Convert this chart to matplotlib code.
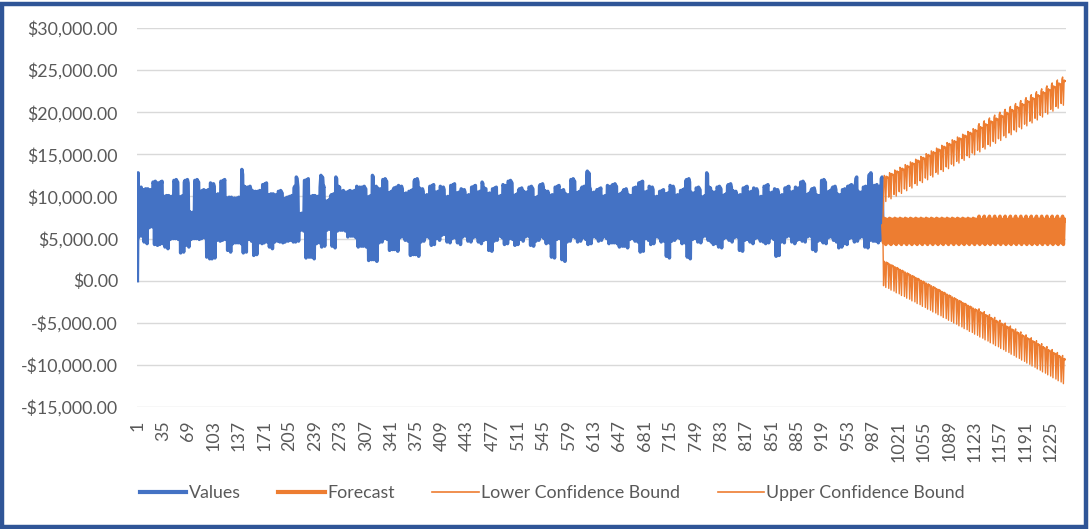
import matplotlib
matplotlib.use("Agg")
import matplotlib.pyplot as plt
from matplotlib.patches import Rectangle
from matplotlib.ticker import FuncFormatter, FixedLocator, NullLocator

# Daily observed values, one row per week (quiet days on the 3rd and 7th day)
values = [
    0, 12800, 5200, 11000, 10900, 11100, 5300,
    10600, 10800, 4600, 10700, 10900, 10500, 4400,
    10900, 10700, 6300, 10600, 10800, 10500, 6400,
    11700, 11500, 4300, 11800, 11600, 11500, 4200,
    11600, 11400, 4300, 11700, 11500, 11800, 4400,
    9800, 10000, 4000, 9900, 10100, 9700, 3800,
    10100, 9900, 4900, 9800, 10000, 9700, 5000,
    11900, 11700, 5000, 12000, 11800, 11700, 4900,
    9900, 9700, 3300, 10000, 9800, 10100, 3400,
    11700, 11900, 4200, 11800, 12000, 11600, 4000,
    8200, 8000, 4900, 7900, 8100, 7800, 5000,
    11900, 11700, 5000, 12000, 11800, 11700, 4900,
    10600, 10400, 5000, 10700, 10500, 10800, 5100,
    10500, 10700, 2800, 10600, 10800, 10400, 2600,
    11600, 11400, 2600, 11300, 11500, 11200, 2700,
    10200, 10000, 4800, 10300, 10100, 10000, 4700,
    11800, 11600, 4800, 11900, 11700, 12000, 4900,
    9600, 9800, 3600, 9700, 9900, 9500, 3400,
    9900, 9700, 4400, 9600, 9800, 9500, 4500,
    9800, 9600, 4500, 9900, 9700, 9600, 4400,
    13200, 12600, 3300, 11200, 11000, 11100, 3400,
    10900, 11100, 4900, 11000, 11200, 10800, 4700,
    10700, 10500, 3000, 10400, 10600, 10300, 3100,
    10600, 10400, 4500, 10700, 10500, 10400, 4400,
    11400, 11200, 4500, 11500, 11300, 11600, 4600,
    10000, 10200, 4000, 10100, 10300, 9900, 3800,
    10300, 10100, 4600, 10000, 10200, 9900, 4700,
    10600, 10400, 4600, 10700, 10500, 10400, 4500,
    9700, 9500, 4600, 9800, 9600, 9900, 4700,
    9800, 10000, 4800, 9900, 10100, 9700, 4600,
    11000, 11200, 4600, 12300, 12100, 11100, 4700,
    7900, 7700, 6000, 8000, 7800, 7700, 5900,
    11900, 11700, 2700, 12000, 11800, 12100, 2800,
    9800, 10000, 2800, 9900, 10100, 9700, 2600,
    10100, 9900, 4400, 9800, 10000, 9700, 4500,
    11100, 12500, 4000, 12300, 11000, 11200, 4100,
    9400, 9200, 6000, 9500, 9300, 9600, 6100,
    10000, 10200, 4100, 10100, 10300, 9900, 3900,
    12300, 12100, 5900, 11200, 11000, 11100, 6000,
    10600, 10400, 6000, 10700, 10500, 10400, 5900,
    10500, 10300, 5200, 10600, 10400, 10700, 5300,
    10400, 10600, 5300, 10500, 10700, 10300, 5100,
    11200, 11000, 4000, 10900, 11100, 10800, 4100,
    11100, 10900, 4100, 11200, 11000, 10900, 4000,
    9900, 9700, 2400, 10000, 9800, 10100, 2500,
    12500, 12300, 2500, 11100, 11000, 11200, 2300,
    11000, 10800, 4500, 10700, 10900, 10600, 4600,
    12000, 11800, 5000, 12100, 11900, 11800, 4900,
    10400, 10200, 3600, 10500, 10300, 10600, 3700,
    10800, 11000, 3700, 10900, 11100, 10700, 3500,
    11300, 11100, 5100, 11000, 11200, 10900, 5200,
    10300, 10100, 4800, 10400, 10200, 10100, 4700,
    10600, 10400, 3000, 10700, 10500, 10800, 3100,
    11800, 12000, 3100, 11900, 12100, 11700, 2900,
    11000, 10800, 4600, 10700, 10900, 10600, 4700,
    10100, 9900, 5200, 10200, 10000, 9900, 5100,
    11200, 11000, 4200, 11300, 11100, 11400, 4300,
    10300, 10500, 5000, 10400, 10600, 10200, 4800,
    11200, 11000, 5400, 10900, 11100, 10800, 5500,
    9900, 9700, 4600, 10000, 9800, 9700, 4500,
    11300, 11100, 5000, 11400, 11200, 11500, 5100,
    10200, 10400, 4500, 10300, 10500, 10100, 4300,
    10900, 10700, 5200, 10600, 10800, 10500, 5300,
    10100, 9900, 4700, 10200, 10000, 9900, 4600,
    11100, 10900, 5100, 11200, 11000, 11300, 5200,
    10300, 10500, 4600, 10400, 10600, 10200, 4400,
    11700, 11500, 4800, 11000, 10800, 10900, 4900,
    10300, 10100, 3600, 10400, 10200, 10100, 3500,
    10900, 10700, 4700, 11000, 10800, 11100, 4800,
    9800, 10000, 5300, 9900, 10100, 9700, 5100,
    11400, 11200, 4300, 11100, 11300, 11000, 4400,
    11800, 11600, 5000, 11900, 11700, 11600, 4900,
    10100, 9900, 4200, 10200, 10000, 10300, 4300,
    10700, 10900, 4900, 10800, 11000, 10600, 4700,
    10600, 10400, 5200, 10300, 10500, 10200, 5300,
    11100, 10900, 4200, 11200, 11000, 10900, 4100,
    9800, 9600, 4700, 9900, 9700, 10000, 4800,
    11200, 11400, 5200, 11300, 11500, 11100, 5000,
    10700, 10500, 4400, 10400, 10600, 10300, 4500,
    10100, 9900, 2800, 10200, 10000, 9900, 2700,
    11100, 10900, 4900, 11200, 11000, 11300, 5000,
    10500, 10700, 2500, 10600, 10800, 10400, 2300,
    10300, 10100, 4600, 10000, 10200, 9900, 4700,
    12000, 11800, 5200, 12100, 11900, 11800, 5100,
    10400, 10200, 4600, 10500, 10300, 10600, 4700,
    10900, 11100, 5100, 11000, 11200, 10800, 4900,
    11200, 13000, 4300, 12800, 11000, 10900, 4400,
    10400, 10200, 5200, 10500, 10300, 10200, 5100,
    10800, 10600, 4700, 10900, 10700, 11000, 4800,
    9800, 10000, 5200, 9900, 10100, 9700, 5000,
    11300, 11100, 4400, 11000, 11200, 10900, 4500,
    11400, 11200, 4500, 11500, 11300, 11200, 4400,
    10200, 10000, 4000, 10300, 10100, 10400, 4100,
    10600, 10800, 4100, 10700, 10900, 10500, 3900,
    10200, 10000, 4900, 9900, 10100, 9800, 5000,
    11000, 10800, 4700, 11100, 10900, 10800, 4600,
    11600, 11400, 3400, 11700, 11500, 11800, 3500,
    10300, 10500, 5000, 10400, 10600, 10200, 4800,
    11200, 11000, 4300, 10900, 11100, 10800, 4400,
    9900, 9700, 5200, 10000, 9800, 9700, 5100,
    10600, 10400, 4600, 10700, 10500, 10800, 4700,
    10100, 10300, 2900, 10200, 10400, 10000, 2700,
    11300, 11100, 4700, 11000, 11200, 10900, 4800,
    10100, 9900, 5100, 10200, 10000, 9900, 5000,
    10700, 10500, 4400, 10800, 10600, 10900, 4500,
    11800, 12000, 2800, 11900, 12100, 11700, 2600,
    10500, 10300, 4900, 10200, 10400, 10100, 5000,
    11000, 10800, 4600, 11100, 10900, 10800, 4500,
    9900, 9700, 5200, 10000, 9800, 10100, 5300,
    12800, 12600, 4800, 11100, 10900, 11000, 4600,
    10600, 10400, 4300, 10300, 10500, 10200, 4400,
    11100, 10900, 4000, 11200, 11000, 10900, 3900,
    10100, 9900, 5000, 10200, 10000, 10300, 5100,
    11200, 11400, 4800, 11300, 11500, 11100, 4600,
    10700, 10500, 5100, 10400, 10600, 10300, 5200,
    10100, 9900, 3600, 10200, 10000, 9900, 3500,
    11000, 10800, 4800, 11100, 10900, 11200, 4900,
    10300, 10500, 4600, 10400, 10600, 10200, 4400,
    11000, 10800, 5000, 10700, 10900, 10600, 5100,
    9900, 9700, 4700, 10000, 9800, 9700, 4600,
    11200, 11000, 4400, 11300, 11100, 11400, 4500,
    10200, 10400, 5100, 10300, 10500, 10100, 4900,
    10900, 10700, 2900, 10600, 10800, 10500, 3000,
    10100, 9900, 4600, 10200, 10000, 9900, 4500,
    11000, 10800, 5200, 11100, 10900, 11200, 5300,
    10300, 10500, 4600, 10400, 10600, 10200, 4400,
    11100, 10900, 4800, 10800, 11000, 10700, 4900,
    11700, 11500, 4700, 11800, 11600, 11500, 4600,
    10200, 10000, 5200, 10300, 10100, 10400, 5300,
    10700, 10900, 3700, 10800, 11000, 10600, 3500,
    10200, 10000, 4700, 9900, 10100, 9800, 4800,
    11900, 11700, 4500, 12000, 11800, 11700, 4400,
    10500, 10300, 5100, 10600, 10400, 10700, 5200,
    10900, 11100, 4800, 11000, 11200, 10800, 4600,
    10300, 10100, 3900, 10000, 10200, 9900, 4000,
    10800, 10600, 4400, 10900, 10700, 10600, 4300,
    11200, 11000, 5000, 11300, 11100, 11400, 5100,
    11100, 11200, 4600, 11000, 12100, 12300, 4700,
    10600, 10400, 5100, 10300, 10500, 10200, 5200,
    11100, 10900, 4000, 11200, 11000, 10900, 3900,
    11200, 12600, 4800, 12800, 11100, 11000, 4700,
    11100, 11300, 4700, 11200, 11400, 11000, 4500,
    11000, 11200, 4800, 12100, 12300, 6500,
]

# Weekly seasonal forecast profile, starting on the day after the last observation
forecast_week_early = [4500, 7400, 7250, 4300, 7300, 7100, 7200]
forecast_week_late = [4500, 7400, 7650, 4300, 7300, 7100, 7200]
forecast_weeks_early = 18
forecast_weeks_late = 17

# Half-width of the confidence interval for each forecast week
ci_halfwidth_weekly = [
    5100, 5420, 5740, 6060, 6380, 6700, 7020, 7350, 7680, 8010,
    8340, 8670, 9000, 9330, 9660, 9990, 10320, 10650, 10990, 11330,
    11670, 12010, 12350, 12690, 13030, 13380, 13730, 14080, 14430, 14780,
    15130, 15480, 15830, 16180, 16530,
]

x_tick_labels = [1, 35, 69, 103, 137, 171, 205, 239, 273, 307, 341, 375, 409,
                 443, 477, 511, 545, 579, 613, 647, 681, 715, 749, 783, 817,
                 851, 885, 919, 953, 987, 1021, 1055, 1089, 1123, 1157, 1191, 1225]

series_names = ["Values", "Forecast", "Lower Confidence Bound", "Upper Confidence Bound"]

BLUE = "#4472C4"
ORANGE = "#ED7D31"
TEXT = "#595959"
GRID = "#D9D9D9"
FONT = "Lato"
FONT_SIZE = 12.8

# Build the series
n_obs = len(values)
x_obs = list(range(1, n_obs + 1))
forecast_steps = forecast_week_early * forecast_weeks_early + forecast_week_late * forecast_weeks_late
halfwidth_steps = [ci_halfwidth_weekly[i // 7] for i in range(len(forecast_steps))]
last = values[-1]
forecast = [last] + forecast_steps
lower = [last] + [f - h for f, h in zip(forecast_steps, halfwidth_steps)]
upper = [last] + [f + h for f, h in zip(forecast_steps, halfwidth_steps)]
x_fc = list(range(n_obs, n_obs + len(forecast)))
n_total = x_fc[-1]

fig = plt.figure(figsize=(10.9, 5.29), dpi=100)
ax = fig.add_axes([137 / 1090, 1 - 407 / 529, (1066 - 137) / 1090, (407 - 28) / 529])

ax.plot(x_obs, values, color=BLUE, lw=2.5, solid_joinstyle="round", zorder=3)
ax.plot(x_fc, forecast, color=ORANGE, lw=2.5, solid_joinstyle="round", zorder=4)
ax.plot(x_fc, lower, color=ORANGE, lw=1.0, zorder=4)
ax.plot(x_fc, upper, color=ORANGE, lw=1.0, zorder=4)

ax.set_xlim(0.5, n_total + 0.5)
ax.set_ylim(-15000, 30000)

ax.yaxis.set_major_locator(FixedLocator(range(-15000, 30001, 5000)))


def money(v, _pos):
    s = f"${abs(v):,.2f}"
    return "-" + s if v < 0 else s


ax.yaxis.set_major_formatter(FuncFormatter(money))
ax.grid(axis="y", color=GRID, lw=1.0)
ax.set_axisbelow(True)

ax.xaxis.set_major_locator(FixedLocator(x_tick_labels))
ax.set_xticklabels([str(v) for v in x_tick_labels], rotation=90, va="top", ha="center")
ax.xaxis.set_minor_locator(NullLocator())

for side in ("top", "right", "left", "bottom"):
    ax.spines[side].set_visible(False)
ax.tick_params(axis="both", length=0, colors=TEXT, labelsize=FONT_SIZE)
ax.tick_params(axis="y", pad=13.7)
ax.tick_params(axis="x", pad=9.5)
for lab in ax.get_xticklabels() + ax.get_yticklabels():
    lab.set_fontfamily(FONT)

handles = [
    plt.Line2D([], [], color=BLUE, lw=3.0),
    plt.Line2D([], [], color=ORANGE, lw=3.0),
    plt.Line2D([], [], color=ORANGE, lw=1.2),
    plt.Line2D([], [], color=ORANGE, lw=1.2),
]
leg = fig.legend(handles, series_names, loc="center", bbox_to_anchor=(0.507, 1 - 493 / 529),
                 ncol=4, frameon=False, handlelength=2.6, handletextpad=0.15,
                 columnspacing=2.1, prop={"family": FONT, "size": FONT_SIZE})
for t in leg.get_texts():
    t.set_color(TEXT)

# Chart frame
fig.patches.append(Rectangle((2 / 1090, 2.5 / 529), 1084 / 1090, 523 / 529,
                             transform=fig.transFigure, fill=False,
                             edgecolor="#2F5597", lw=3.2))

fig.savefig("out.png", dpi=100)
